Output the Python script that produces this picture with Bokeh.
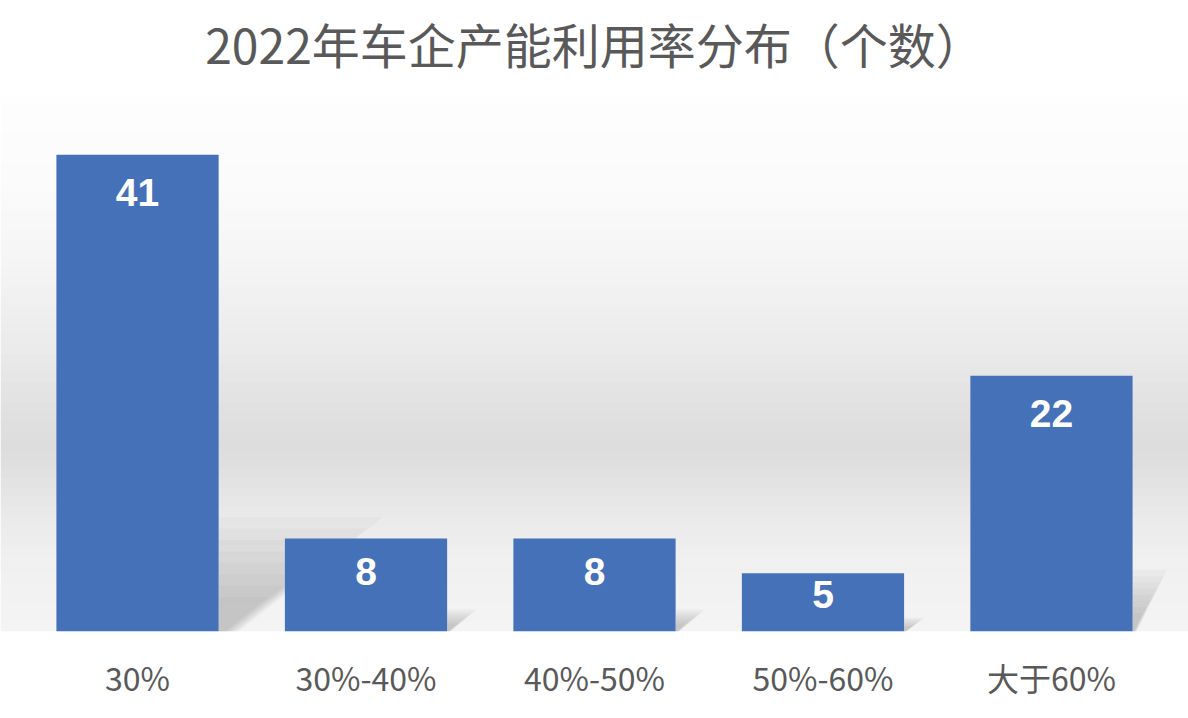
import numpy as np
from bokeh.plotting import figure
from bokeh.models import FactorRange, Range1d, BoxAnnotation, ColumnDataSource, LabelSet, Label
from bokeh.core.properties import value
from bokeh.embed import file_html
from bokeh.resources import INLINE

# ---- data ----
categories = ["30%", "30%-40%", "40%-50%", "50%-60%", "大于60%"]
counts = [41, 8, 8, 5, 22]
title_text = "2022年车企产能利用率分布（个数）"

# ---- styles ----
W, H = 1188, 718
BOT_B = 87                      # space for category labels
GRAD_TOP = 95                   # pixel row where the shaded backdrop starts
PX = 536 / 46.1                 # pixels per count unit
Y_TOP = (H - BOT_B) / PX        # frame reaches the top of the figure
Y_GRAD = (H - BOT_B - GRAD_TOP) / PX
PAD = 0.0997
UNIT_X = W / (len(categories) + 2 * PAD)   # pixels per category
BAR_W = 0.71
BAR_COLOR = "#4571b9"
TEXT_GREY = "#595959"
CJK = "Noto Sans CJK SC"
shadow_len = [0.72, 0.13, 0.13, 0.09, 0.15]

p = figure(width=W, height=H,
           x_range=FactorRange(*categories, range_padding=PAD, range_padding_units="absolute"),
           y_range=Range1d(0, Y_TOP), y_axis_location=None,
           output_backend="svg", toolbar_location=None,
           min_border_left=0, min_border_right=0,
           min_border_top=0, min_border_bottom=BOT_B)

p.border_fill_color = "#ffffff"
p.background_fill_color = "#ffffff"
p.outline_line_color = None
p.grid.grid_line_color = None

# background gradient (pixel rows below GRAD_TOP -> data units)
stops_py = [0, 85, 165, 245, 305, 345, 375, 415, 465, 536]
stops_g = [254, 251, 245, 236, 226, 221, 224, 233, 240, 244]
edges = np.linspace(0, H - BOT_B - GRAD_TOP, 57)
for a, b in zip(edges[:-1], edges[1:]):
    g = int(round(np.interp((a + b) / 2, stops_py, stops_g)))
    col = "#%02x%02x%02x" % (g, g, g)
    p.add_layout(BoxAnnotation(top=Y_GRAD - a / PX + 0.02, bottom=max(Y_GRAD - b / PX - 0.02, 0),
                               fill_color=col, fill_alpha=1.0, line_color=None,
                               level="underlay"))

# soft shadows to the right of the bars
xs, ys = [], []
for i, v in enumerate(counts):
    xr = i + 0.5 + BAR_W / 2
    h = 0.24 * v
    w = shadow_len[i]
    for j in range(8):
        s = 1 - j * 0.1
        xs.append([xr, xr, xr + w * s, xr + 0.12 * w * s])
        ys.append([0.0, h * s, h * s, 0.0])
p.patches(xs, ys, fill_color="#707070", fill_alpha=0.05, line_color=None)

# bars
src = ColumnDataSource(dict(
    x=categories, top=counts,
    ly=[v - min(37.5 / PX, 0.36 * v) for v in counts],
    txt=[str(v) for v in counts]))
p.vbar(x="x", top="top", width=BAR_W, source=src, fill_color=BAR_COLOR, line_color=None)

labels = LabelSet(x="x", y="ly", text="txt", source=src,
                  text_align="center", text_baseline="middle",
                  text_color="#ffffff", text_font=value("Liberation Sans"),
                  text_font_style="bold", text_font_size="39px")
p.add_layout(labels)

# chart title
title = Label(x=len(categories) / 2, y=(H - BOT_B - 42) / PX,
              text=title_text, text_align="center", text_baseline="middle",
              text_font=CJK, text_font_size="48px", text_color=TEXT_GREY)
p.add_layout(title)

ax = p.xaxis[0]
ax.axis_line_color = None
ax.major_tick_line_color = None
ax.minor_tick_line_color = None
ax.major_label_text_font = CJK
ax.major_label_text_font_size = "32px"
ax.major_label_text_color = TEXT_GREY
ax.major_label_standoff = 16

open("out.html", "w").write(file_html(p, INLINE))
